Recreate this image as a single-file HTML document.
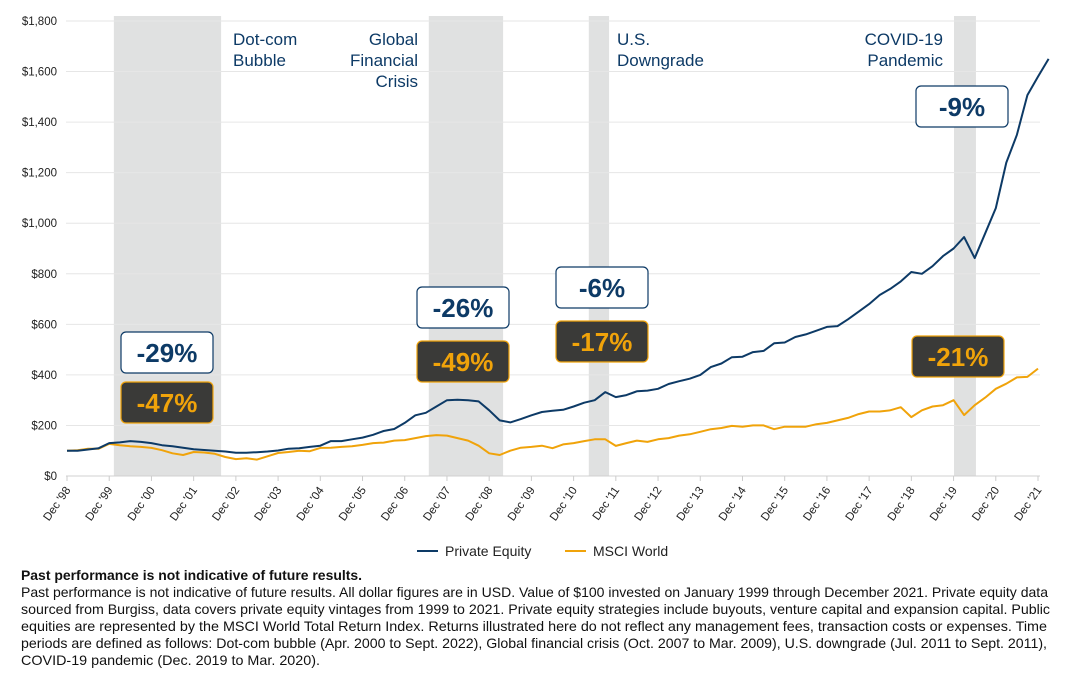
<!DOCTYPE html>
<html><head><meta charset="utf-8"><style>
body{margin:0;background:#fff;width:1080px;height:682px;overflow:hidden;font-family:"Liberation Sans",sans-serif}
svg{display:block}
</style></head><body>
<svg id="chart" width="1080" height="682" viewBox="0 0 1080 682" xmlns="http://www.w3.org/2000/svg" font-family="Liberation Sans, sans-serif">
<g id="bands"></g><g id="grid"></g><g id="xaxis"></g><g id="lines"></g>
<g fill="#0d3a66" font-size="17">
 <text x="233" y="45">Dot-com</text>
 <text x="233" y="66">Bubble</text>
 <text x="418" y="45" text-anchor="end">Global</text>
 <text x="418" y="66" text-anchor="end">Financial</text>
 <text x="418" y="87" text-anchor="end">Crisis</text>
 <text x="617" y="45">U.S.</text>
 <text x="617" y="66">Downgrade</text>
 <text x="943" y="45" text-anchor="end">COVID-19</text>
 <text x="943" y="66" text-anchor="end">Pandemic</text>
</g>
<g id="boxes" font-weight="bold" font-size="26"></g>
<g font-size="14" fill="#222">
 <line x1="417" y1="551" x2="438" y2="551" stroke="#0d3a66" stroke-width="2"/>
 <text x="445" y="556">Private Equity</text>
 <line x1="565" y1="551" x2="586" y2="551" stroke="#f0a30a" stroke-width="2"/>
 <text x="593" y="556">MSCI World</text>
</g>
<g font-size="14" fill="#111">
 <text x="21" y="580" font-weight="bold" textLength="341" lengthAdjust="spacingAndGlyphs">Past performance is not indicative of future results.</text>
 <text x="21" y="597" textLength="1027" lengthAdjust="spacingAndGlyphs">Past performance is not indicative of future results. All dollar figures are in USD. Value of $100 invested on January 1999 through December 2021. Private equity data</text>
 <text x="21" y="614" textLength="1029" lengthAdjust="spacingAndGlyphs">sourced from Burgiss, data covers private equity vintages from 1999 to 2021. Private equity strategies include buyouts, venture capital and expansion capital. Public</text>
 <text x="21" y="631" textLength="1026" lengthAdjust="spacingAndGlyphs">equities are represented by the MSCI World Total Return Index. Returns illustrated here do not reflect any management fees, transaction costs or expenses. Time</text>
 <text x="21" y="648" textLength="1026" lengthAdjust="spacingAndGlyphs">periods are defined as follows: Dot-com bubble (Apr. 2000 to Sept. 2022), Global financial crisis (Oct. 2007 to Mar. 2009), U.S. downgrade (Jul. 2011 to Sept. 2011),</text>
 <text x="21" y="665" textLength="299" lengthAdjust="spacingAndGlyphs">COVID-19 pandemic (Dec. 2019 to Mar. 2020).</text>
</g>
</svg>
<script>
const yTicks=[0,200,400,600,800,1000,1200,1400,1600,1800];
const xTickLabels=["Dec '98","Dec '99","Dec '00","Dec '01","Dec '02","Dec '03","Dec '04","Dec '05","Dec '06","Dec '07","Dec '08","Dec '09","Dec '10","Dec '11","Dec '12","Dec '13","Dec '14","Dec '15","Dec '16","Dec '17","Dec '18","Dec '19","Dec '20","Dec '21"];
// quarterly values starting Dec 1998
const privateEquity=[100,100,105,110,130,133,138,135,130,122,118,112,106,103,100,97,92,92,94,97,101,108,110,115,120,138,138,145,152,163,178,186,210,240,250,275,300,302,300,295,260,220,212,225,240,253,258,262,275,290,300,332,312,320,335,338,345,364,375,385,400,431,445,470,472,490,495,525,528,550,560,575,590,593,620,650,680,716,740,770,807,800,830,870,900,945,862,960,1060,1240,1350,1507,1580,1650];
const msciWorld=[100,102,108,108,127,122,118,115,111,102,90,83,95,93,88,75,67,70,65,78,91,95,100,98,111,112,115,118,123,130,132,140,142,150,158,162,160,150,140,120,90,83,100,112,115,120,110,125,130,138,145,145,119,130,140,135,145,150,160,165,175,185,190,198,195,200,200,185,195,195,195,205,210,220,230,245,255,255,260,272,233,260,275,280,300,241,280,310,345,365,390,392,425];
// crisis periods in years since Dec 1998
const bandStart=[1.11,8.57,12.36,21.01];
const bandEnd=[3.65,10.33,12.84,21.53];
const NS='http://www.w3.org/2000/svg';
const X0=67,X1=1038,Y0=476,Y1=21;
const xs=t=>X0+(X1-X0)*t/23;
const ys=v=>Y0-(Y0-Y1)*v/1800;
function mk(tag,attrs,parent){const e=document.createElementNS(NS,tag);for(const k in attrs)e.setAttribute(k,attrs[k]);parent.appendChild(e);return e;}
const bands=document.getElementById('bands');
bandStart.forEach((s,i)=>{
 const r=mk('rect',{x:xs(s),y:Y1-5,width:xs(bandEnd[i])-xs(s),height:Y0-Y1+5,fill:'#e0e1e1'},bands);
 
 
});
const grid=document.getElementById('grid');
yTicks.forEach(v=>{
 const l=mk('line',{x1:66,x2:1040,y1:ys(v),y2:ys(v),stroke:v===0?'#d0d0d0':'#e6e6e6','stroke-width':1},grid);
 
 
 const t=mk('text',{x:57,y:ys(v)+4,'text-anchor':'end','font-size':11.5,fill:'#222'},grid);
 t.textContent='$'+v.toLocaleString('en-US');
 
 
});
const xa=document.getElementById('xaxis');
xTickLabels.forEach((s,i)=>{
 const x=xs(i);
 mk('line',{x1:x,x2:x,y1:Y0,y2:Y0+5,stroke:'#ccc'},xa);
 const t=mk('text',{x:x+4,y:Y0+14,'text-anchor':'end','font-size':11.5,fill:'#222',transform:`rotate(-55 ${x+4} ${Y0+14})`},xa);
 t.textContent=s;
 
 
});
const lines=document.getElementById('lines');
function series(arr,color,name){
 const d=arr.map((v,i)=>(i?'L':'M')+xs(i/4).toFixed(1)+' '+ys(v).toFixed(1)).join(' ');
 const p=mk('path',{d:d,fill:'none',stroke:color,'stroke-width':2,'stroke-linejoin':'round'},lines);
 
 
}
series(msciWorld,'#f0a30a','msci-world-line');
series(privateEquity,'#0d3a66','private-equity-line');
const boxes=document.getElementById('boxes');
[[121,332,'-29%',0],[121,382,'-47%',1],[417,287,'-26%',0],[417,341,'-49%',1],[556,267,'-6%',0],[556,321,'-17%',1],[916,86,'-9%',0],[912,336,'-21%',1]].forEach(b=>{
 const dark=b[3]===1;
 const r=mk('rect',{x:b[0],y:b[1],width:92,height:41,rx:5,fill:dark?'#3a3a38':'#fff',stroke:dark?'#f0a30a':'#0d3a66','stroke-width':1.2},boxes);
 
 
 const t=mk('text',{x:b[0]+46,y:b[1]+30,'text-anchor':'middle',fill:dark?'#f0a30a':'#0d3a66'},boxes);
 t.textContent=b[2];
 
 
});
</script>
</body></html>
